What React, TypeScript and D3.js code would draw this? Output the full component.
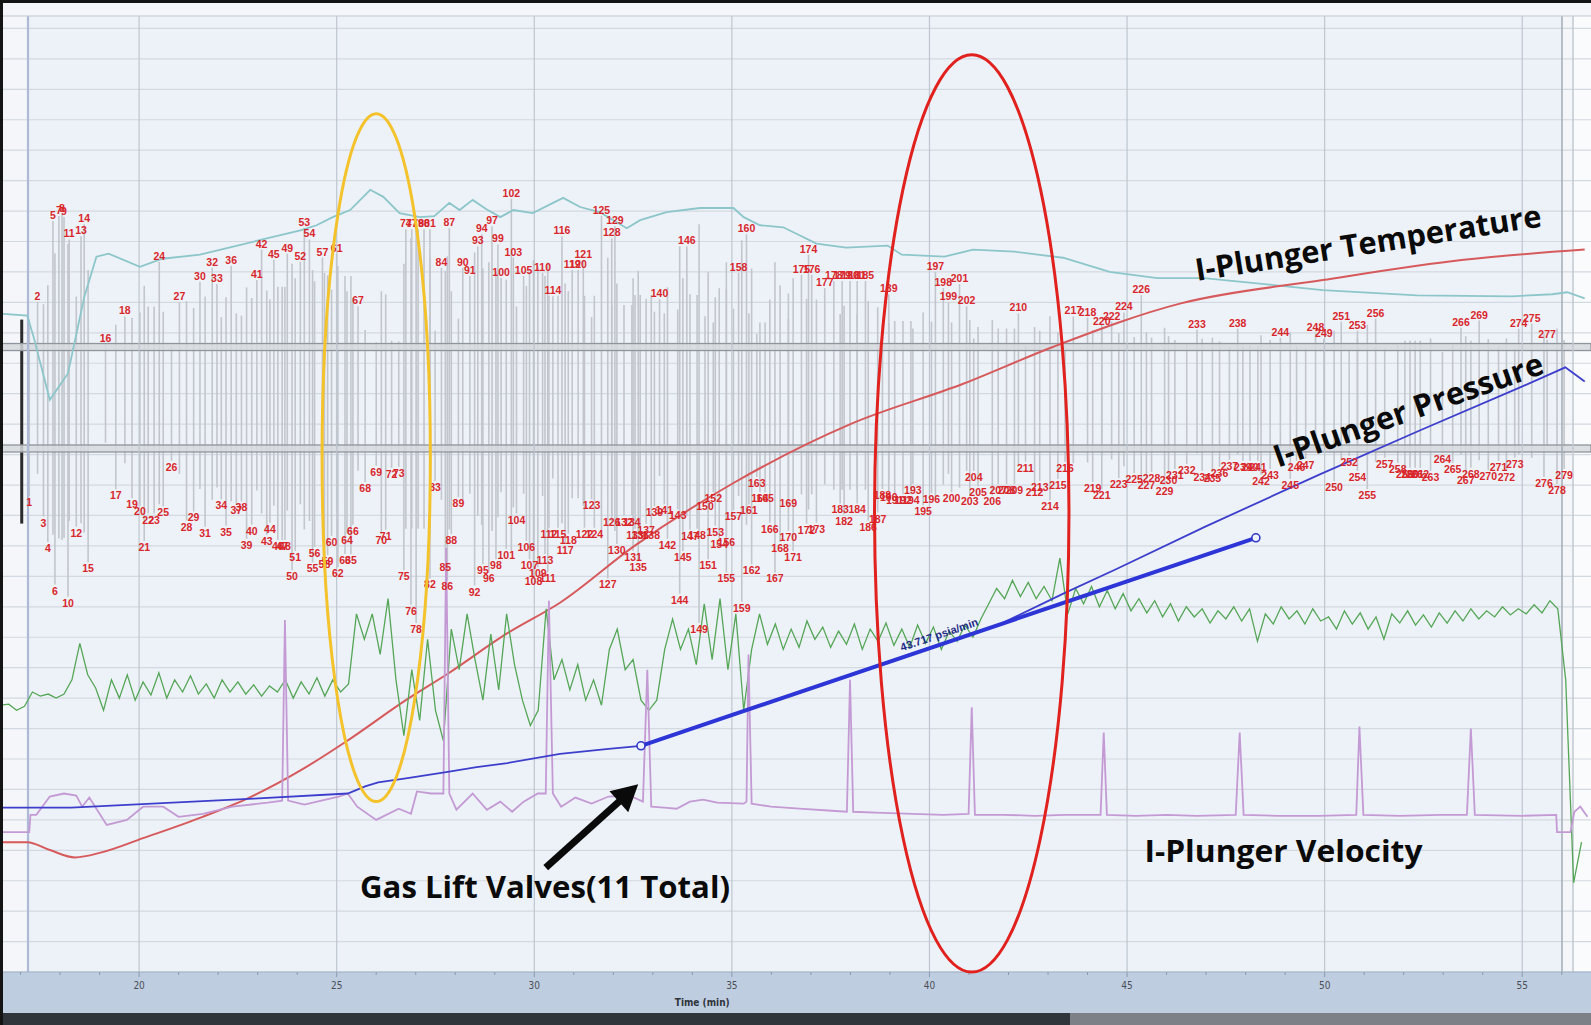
import React from 'react';
import * as d3 from 'd3';

const W = 1591;
const H = 1025;

// time axis, minutes
const xTicks = [20, 25, 30, 35, 40, 45, 50, 55];

// I-Plunger temperature (red)
const tempTime = [16.48, 17.17, 17.76, 18.38, 19.05, 20.10, 21.61, 22.79, 24.18, 25.23, 26.75, 27.77, 29.32, 30.65, 32.50, 35.04, 38.00, 40.87, 43.12, 46.36, 49.95, 53.52, 56.58];
const tempValue = [170, 170, 162, 155, 160, 174, 195, 214, 243, 269, 310, 335, 376, 406, 461, 524, 582, 622, 658, 701, 724, 744, 754];

// cyan trace
const cyanTime = [16.48, 17.17, 17.33, 17.74, 18.20, 18.61, 18.92, 19.23, 20.02, 20.59, 21.54, 22.38, 23.23, 24.08, 24.49, 24.90, 25.34, 25.85, 26.18, 26.59, 27.11, 27.47, 27.85, 28.11, 28.44, 28.78, 29.14, 29.47, 29.96, 30.73, 31.16, 31.65, 32.34, 32.68, 33.35, 34.19, 35.04, 35.30, 35.71, 36.30, 37.14, 37.89, 38.94, 39.30, 40.38, 41.10, 42.15, 43.38, 44.56, 45.77, 46.95, 48.72, 49.95, 52.34, 54.73, 55.76, 56.14, 56.58];
const cyanValue = [691, 689, 668, 606, 632, 707, 747, 750, 737, 745, 749, 757, 765, 773, 778, 786, 793, 813, 806, 790, 786, 787, 800, 793, 803, 794, 786, 793, 790, 805, 796, 791, 775, 783, 791, 795, 795, 786, 778, 776, 760, 756, 758, 749, 747, 754, 752, 746, 732, 726, 726, 719, 714, 709, 708, 710, 712, 706];

// green trace, sampled every 0.2 min from 16.5
const greenStart = 16.5;
const greenStep = 0.2;
const greenValue = [
  305, 306, 300, 304, 318, 314, 316, 312, 316, 330,
  366, 335, 322, 300, 330, 312, 335, 310, 328, 315,
  337, 312, 330, 318, 334, 316, 326, 312, 330, 318,
  328, 316, 325, 314, 324, 318, 330, 312, 328, 316,
  332, 314, 330, 318, 326, 395, 370, 395, 355, 410,
  330, 275, 340, 290, 370, 300, 270, 380, 340, 395,
  350, 310, 375, 320, 395, 345, 310, 285, 300, 400,
  330, 350, 320, 345, 310, 330, 305, 360, 380, 340,
  350, 310, 300, 310, 360, 390, 360, 380, 345, 405,
  350, 410, 340, 395, 300, 360, 395, 365, 385, 360,
  380, 362, 388, 370, 382, 362, 378, 365, 385, 360,
  380, 368, 386, 364, 380, 362, 384, 366, 382, 360,
  378, 368, 384, 372, 390, 405, 420, 410, 428, 412,
  426, 410, 422, 408, 450, 395, 420, 405, 422, 402,
  418, 400, 415, 398, 410, 396, 408, 392, 405, 388,
  402, 392, 400, 386, 398, 390, 402, 388, 400, 368,
  395, 385, 402, 390, 398, 385, 400, 388, 392, 380,
  398, 385, 396, 380, 392, 370, 395, 386, 398, 384,
  394, 382, 396, 386, 398, 388, 400, 390, 398, 392,
  402, 394, 400, 395, 404, 396, 408, 400, 330, 130,
  170,
];

// I-Plunger velocity (purple)
const velTime = [16.48, 17.22, 17.25, 17.40, 17.74, 18.10, 18.41, 18.56, 18.74, 19.18, 19.69, 20.10, 20.61, 21.00, 21.61, 22.36, 23.26, 23.62, 23.69, 23.77, 24.18, 25.05, 25.28, 25.52, 26.00, 26.57, 26.88, 27.03, 27.39, 27.70, 27.77, 27.85, 28.03, 28.44, 28.80, 29.14, 29.44, 29.73, 30.09, 30.29, 30.37, 30.47, 30.68, 31.04, 31.45, 31.88, 32.40, 32.75, 32.86, 32.96, 33.29, 33.60, 33.94, 34.27, 34.63, 35.30, 35.37, 35.42, 35.50, 35.99, 36.71, 37.53, 37.91, 37.99, 38.07, 38.81, 39.58, 40.35, 40.99, 41.07, 41.15, 41.89, 42.66, 43.43, 44.33, 44.41, 44.49, 45.23, 46.00, 46.77, 47.75, 47.85, 47.95, 48.82, 49.85, 50.80, 50.88, 50.98, 51.90, 52.93, 53.60, 53.70, 53.80, 54.99, 55.86, 55.88, 56.22, 56.32, 56.47, 56.65];
const velValue = [180, 180, 197, 197, 215, 218, 216, 205, 214, 187, 192, 205, 205, 195, 198, 205, 209, 211, 389, 211, 207, 215, 218, 205, 192, 203, 198, 220, 218, 218, 460, 218, 202, 218, 202, 210, 200, 210, 218, 218, 408, 218, 205, 214, 208, 215, 216, 210, 340, 205, 204, 203, 210, 212, 209, 208, 210, 355, 208, 205, 203, 201, 200, 330, 200, 199, 198, 197, 198, 303, 197, 197, 196, 197, 197, 278, 197, 196, 197, 196, 197, 278, 197, 196, 196, 197, 284, 197, 196, 197, 197, 282, 197, 196, 197, 180, 180, 200, 205, 195];

// I-Plunger pressure (blue)
const presTime = [16.48, 18.28, 20.33, 22.90, 25.28, 25.72, 26.05, 26.75, 27.77, 28.54, 29.32, 30.65, 31.88, 32.70, 34.45, 37.02, 39.58, 41.79, 43.44, 44.72, 46.98, 49.85, 52.42, 54.99, 56.09, 56.58];
const presValue = [204, 204, 208, 213, 218, 225, 229, 233, 239, 244, 248, 257, 262, 265, 288, 322, 356, 385, 416, 439, 481, 532, 576, 619, 638, 624];

// pressure slope fit
const fitTime = [32.70, 48.26];
const fitValue = [265, 470];
const fitLabel = '43.717 psia/min';

// numbered events (label n = index + 1)
const eventTime = [
  17.22, 17.43, 17.58, 17.69, 17.82, 17.87, 17.97, 18.05, 18.10, 18.20,
  18.23, 18.41, 18.53, 18.61, 18.71, 19.15, 19.41, 19.64, 19.82, 20.02,
  20.13, 20.23, 20.38, 20.51, 20.61, 20.82, 21.02, 21.20, 21.38, 21.54,
  21.67, 21.85, 21.97, 22.08, 22.20, 22.33, 22.46, 22.59, 22.72, 22.85,
  22.98, 23.10, 23.23, 23.31, 23.41, 23.51, 23.62, 23.69, 23.75, 23.87,
  23.95, 24.08, 24.18, 24.31, 24.39, 24.44, 24.64, 24.69, 24.77, 24.87,
  25.00, 25.03, 25.21, 25.26, 25.36, 25.41, 25.54, 25.72, 26.00, 26.13,
  26.24, 26.39, 26.57, 26.75, 26.70, 26.88, 26.90, 27.01, 27.06, 27.21,
  27.36, 27.36, 27.49, 27.65, 27.75, 27.80, 27.85, 27.90, 28.08, 28.19,
  28.37, 28.49, 28.57, 28.67, 28.70, 28.85, 28.93, 29.03, 29.08, 29.16,
  29.29, 29.42, 29.47, 29.55, 29.73, 29.80, 29.88, 29.98, 30.09, 30.21,
  30.34, 30.37, 30.27, 30.47, 30.60, 30.70, 30.78, 30.86, 30.96, 31.11,
  31.24, 31.27, 31.45, 31.52, 31.70, 31.96, 31.86, 31.96, 32.04, 32.09,
  32.50, 32.27, 32.55, 32.47, 32.63, 32.68, 32.83, 32.96, 33.04, 33.17,
  33.29, 33.37, 33.63, 33.68, 33.76, 33.86, 33.94, 34.12, 34.17, 34.32,
  34.40, 34.53, 34.58, 34.68, 34.86, 34.86, 35.04, 35.17, 35.25, 35.37,
  35.43, 35.50, 35.63, 35.71, 35.84, 35.96, 36.09, 36.22, 36.43, 36.43,
  36.55, 36.89, 37.14, 36.94, 36.76, 37.02, 37.35, 37.58, 37.79, 37.99,
  38.17, 37.84, 37.74, 38.17, 38.38, 38.45, 38.69, 38.81, 38.97, 38.97,
  39.12, 39.33, 39.58, 39.53, 39.84, 40.05, 40.15, 40.35, 40.48, 40.56,
  40.76, 40.94, 41.02, 41.12, 41.23, 41.59, 41.74, 41.95, 42.15, 42.25,
  42.43, 42.66, 42.79, 43.05, 43.25, 43.43, 43.64, 44.00, 44.13, 44.36,
  44.36, 44.61, 44.79, 44.92, 45.18, 45.36, 45.49, 45.62, 45.95, 46.05,
  46.21, 46.51, 46.77, 46.90, 47.16, 47.34, 47.59, 47.80, 47.93, 48.11,
  48.31, 48.39, 48.62, 48.88, 49.13, 49.29, 49.52, 49.77, 49.98, 50.24,
  50.42, 50.62, 50.83, 50.83, 51.08, 51.29, 51.52, 51.85, 52.03, 52.16,
  52.29, 52.42, 52.68, 52.98, 53.24, 53.45, 53.57, 53.70, 53.91, 54.14,
  54.40, 54.60, 54.81, 54.91, 55.24, 55.55, 55.63, 55.88, 56.06,
];
const eventLevel = [
  505, 708, 485, 460, 788, 418, 793, 795, 792, 406,
  770, 475, 773, 785, 440, 667, 512, 694, 503, 496,
  461, 488, 488, 748, 495, 540, 708, 481, 490, 728,
  475, 742, 726, 502, 476, 744, 497, 500, 463, 477,
  730, 760, 467, 479, 750, 462, 462, 462, 756, 432,
  451, 748, 781, 770, 440, 455, 752, 444, 447, 466,
  756, 435, 448, 468, 448, 477, 704, 519, 535, 468,
  472, 533, 534, 780, 432, 398, 780, 380, 780, 780,
  780, 424, 520, 742, 441, 422, 781, 468, 504, 742,
  734, 417, 763, 775, 438, 430, 783, 443, 765, 732,
  453, 810, 752, 488, 734, 461, 443, 427, 435, 737,
  430, 474, 448, 714, 474, 773, 458, 468, 740, 740,
  750, 474, 502, 474, 793, 486, 424, 771, 783, 458,
  451, 486, 473, 486, 441, 473, 478, 473, 495, 711,
  497, 463, 492, 409, 451, 763, 472, 473, 380, 501,
  443, 509, 476, 464, 430, 466, 491, 737, 401, 775,
  497, 438, 524, 509, 509, 479, 430, 460, 504, 471,
  451, 478, 479, 755, 735, 735, 722, 729, 729, 729,
  729, 487, 498, 498, 729, 481, 489, 512, 716, 510,
  507, 507, 517, 507, 496, 508, 738, 722, 708, 509,
  726, 704, 506, 530, 515, 506, 517, 517, 517, 697,
  539, 515, 520, 501, 522, 539, 694, 693, 519, 684,
  512, 689, 523, 698, 528, 715, 522, 529, 516, 527,
  532, 537, 681, 530, 529, 534, 541, 682, 540, 540,
  540, 526, 532, 673, 522, 540, 542, 678, 672, 520,
  689, 545, 680, 530, 512, 692, 543, 538, 533, 533,
  533, 533, 530, 548, 538, 683, 527, 533, 690, 531,
  540, 530, 543, 682, 687, 524, 671, 517, 532,
];

// two reference bands of the event trace
const bandLevels = [658, 558];

// annotations (time, value)
const ellipses = [
  { t: 26.0, v: 549, rt: 1.37, rv: 339, color: '#f4c22b' },
  { t: 41.07, v: 494, rt: 2.46, rv: 452, color: '#e0211d' },
];
const notes = [
  { text: 'I-Plunger Temperature', t: 46.77, v: 723, angle: -9, len: 350 },
  { text: 'I-Plunger Pressure', t: 48.82, v: 539, angle: -19.5, len: 284 },
  { text: 'I-Plunger Velocity', t: 45.44, v: 150, angle: 0, len: 278 },
  { text: 'Gas Lift Valves(11 Total)', t: 25.59, v: 115, angle: 0, len: 370 },
];
const arrowFrom = [30.29, 145];
const arrowTo = [32.63, 227];

export default function App() {
  const x = d3.scaleLinear().domain([16.48, 56.74]).range([0, W]);
  const y = d3.scaleLinear().domain([0, 1000]).range([1014.7, 0]);

  const plotTop = 16;
  const plotBottom = 972;
  const plotLeft = 28;
  const plotRight = 1562;

  const path = (ts: number[], vs: number[], curve: d3.CurveFactory = d3.curveLinear) =>
    d3.line<number>().x((_, i) => x(ts[i])).y((d) => y(d)).curve(curve)(vs) || '';

  const greenTime = greenValue.map((_, i) => greenStart + i * greenStep);
  const gridValues = d3.range(0, 32).map((k) => 972 - 30 * k);
  const minorTicks = d3.range(17, 57);

  const bandMid = (bandLevels[0] + bandLevels[1]) / 2;

  // fit line geometry
  const fx1 = x(fitTime[0]), fy1 = y(fitValue[0]);
  const fx2 = x(fitTime[1]), fy2 = y(fitValue[1]);
  const fdx = fx2 - fx1, fdy = fy2 - fy1;
  const flen = Math.hypot(fdx, fdy);
  const fang = (Math.atan2(fdy, fdx) * 180) / Math.PI;
  const fmx = fx1 + fdx * 0.49 + (fdy / flen) * 6;
  const fmy = fy1 + fdy * 0.49 - (fdx / flen) * 6;

  // arrow geometry
  const ax1 = x(arrowFrom[0]), ay1 = y(arrowFrom[1]);
  const ax2 = x(arrowTo[0]), ay2 = y(arrowTo[1]);
  const alen = Math.hypot(ax2 - ax1, ay2 - ay1);
  const ux = (ax2 - ax1) / alen, uy = (ay2 - ay1) / alen;
  const hl = 26, hw = 14;
  const head = [
    [ax2, ay2],
    [ax2 - ux * hl - uy * hw, ay2 - uy * hl + ux * hw],
    [ax2 - ux * hl + uy * hw, ay2 - uy * hl - ux * hw],
  ];

  return (
    <div style={{ position: 'fixed', left: 0, top: 0, width: W, height: H, background: '#fff' }}>
      <svg width={W} height={H} style={{ display: 'block' }}>
        {/* frame */}
        <rect x={0} y={0} width={W} height={H} fill="#f4f6f9" />
        <rect x={plotLeft} y={plotTop} width={plotRight - plotLeft} height={plotBottom - plotTop} fill="#edf2f8" />
        <rect x={plotRight + 11} y={plotTop} width={W - plotRight - 11} height={plotBottom - plotTop} fill="#fafbfc" />

        {/* horizontal grid */}
        {gridValues.map((g) => (
          <line key={'g' + g} x1={0} x2={W} y1={y(g)} y2={y(g)} stroke="#d3d9e0" strokeWidth={1.2} />
        ))}

        {/* event spikes: each runs from its peak through the bands to the mirrored side */}
        {eventTime.map((t, i) => {
          const v = eventLevel[i];
          const up = v > bandMid;
          const px = x(t);
          const far = bandMid - (v - bandMid) * 0.75;
          const y1 = up ? y(v) + 6 : y(far);
          const y2 = up ? y(far) : y(v) - 6;
          return <line key={'s' + i} x1={px} x2={px} y1={y1} y2={y2} stroke="#c2c6cc" strokeWidth={1.6} />;
        })}
        <line x1={x(17.03)} x2={x(17.03)} y1={y(685)} y2={y(484)} stroke="#2b2b2b" strokeWidth={3} />

        {/* bands */}
        {bandLevels.map((b) => (
          <rect key={'b' + b} x={0} y={y(b) - 3.5} width={W} height={7} fill="#d6d9dd" fillOpacity={0.85} stroke="#8f959c" strokeWidth={1.3} />
        ))}

        {/* vertical grid */}
        {xTicks.map((t) => (
          <line key={'v' + t} x1={x(t)} x2={x(t)} y1={plotTop} y2={plotBottom} stroke="#bfc6cf" strokeWidth={1.2} />
        ))}
        <line x1={plotLeft} x2={plotLeft} y1={plotTop} y2={plotBottom} stroke="#aeb9d6" strokeWidth={2.2} />
        <line x1={plotRight} x2={plotRight} y1={plotTop} y2={plotBottom} stroke="#a3abb5" strokeWidth={1.5} />
        <line x1={plotRight + 11} x2={plotRight + 11} y1={plotTop} y2={plotBottom} stroke="#c2c9d1" strokeWidth={1.5} />
        <line x1={0} x2={W} y1={plotTop} y2={plotTop} stroke="#c3cad3" strokeWidth={1} />

        {/* traces */}
        <path d={path(cyanTime, cyanValue)} fill="none" stroke="#8cc6ca" strokeWidth={1.8} />
        <path d={path(tempTime, tempValue, d3.curveMonotoneX)} fill="none" stroke="#d65a5c" strokeWidth={2} />
        <path d={path(greenTime, greenValue)} fill="none" stroke="#55a657" strokeWidth={1.3} />
        <path d={path(velTime, velValue)} fill="none" stroke="#c49ad4" strokeWidth={1.8} />
        <path d={path(presTime, presValue)} fill="none" stroke="#3d3fcc" strokeWidth={1.8} />

        {/* slope fit */}
        <line x1={fx1} y1={fy1} x2={fx2} y2={fy2} stroke="#2d35d6" strokeWidth={4} />
        <circle cx={fx1} cy={fy1} r={4} fill="#eef2fb" stroke="#3138c8" strokeWidth={1.6} />
        <circle cx={fx2} cy={fy2} r={4} fill="#eef2fb" stroke="#3138c8" strokeWidth={1.6} />
        <text
          transform={`translate(${fmx},${fmy}) rotate(${fang})`}
          textAnchor="middle"
          fontFamily="Liberation Sans, Arial, sans-serif"
          fontSize={11}
          fontWeight={700}
          fill="#1f2a86"
        >
          {fitLabel}
        </text>

        {/* event numbers */}
        {eventTime.map((t, i) => (
          <text
            key={'n' + i}
            x={x(t)}
            y={y(eventLevel[i]) + 4}
            textAnchor="middle"
            fontFamily="Liberation Sans, Arial, sans-serif"
            fontSize={10.5}
            fontWeight={700}
            fill="#d9262b"
          >
            {i + 1}
          </text>
        ))}

        {/* bottom axis */}
        <rect x={0} y={plotBottom} width={W} height={1013 - plotBottom} fill="#bfcde0" />
        <line x1={0} x2={W} y1={plotBottom} y2={plotBottom} stroke="#9fb0c6" strokeWidth={1.2} />
        {minorTicks.map((t) => (
          <line key={'m' + t} x1={x(t)} x2={x(t)} y1={plotBottom} y2={plotBottom + (t % 5 === 0 ? 5 : 3)} stroke="#8a9ab0" strokeWidth={1} />
        ))}
        {xTicks.map((t) => (
          <text
            key={'l' + t}
            x={x(t)}
            y={plotBottom + 17}
            textAnchor="middle"
            fontFamily="DejaVu Sans Condensed, DejaVu Sans, sans-serif"
            fontSize={10}
            fill="#4a4f57"
          >
            {t}
          </text>
        ))}
        <text x={x(34.25)} y={1006} textAnchor="middle" fontFamily="DejaVu Sans Condensed, DejaVu Sans, sans-serif" fontSize={10} fontWeight={700} fill="#2f343b">
          Time (min)
        </text>
        <rect x={0} y={1013} width={1070} height={12} fill="#30353b" />
        <rect x={1070} y={1013} width={W - 1070} height={12} fill="#7d8187" />

        {/* outer dark edges */}
        <rect x={0} y={0} width={W} height={3} fill="#141414" />
        <rect x={0} y={0} width={3} height={H} fill="#141414" />

        {/* annotations */}
        {ellipses.map((e, i) => (
          <ellipse
            key={'e' + i}
            cx={x(e.t)}
            cy={y(e.v)}
            rx={x(e.t + e.rt) - x(e.t)}
            ry={y(e.v - e.rv) - y(e.v)}
            fill="none"
            stroke={e.color}
            strokeWidth={3}
          />
        ))}
        {notes.map((n, i) => (
          <text
            key={'a' + i}
            transform={`translate(${x(n.t)},${y(n.v)}) rotate(${n.angle})`}
            fontFamily="Open Sans, Noto Sans, sans-serif"
            fontWeight={700}
            fontSize={31}
            fill="#0a0a0a"
            textLength={n.len}
            lengthAdjust="spacingAndGlyphs"
          >
            {n.text}
          </text>
        ))}
        <line x1={ax1} y1={ay1} x2={ax2 - ux * 18} y2={ay2 - uy * 18} stroke="#0a0a0a" strokeWidth={7} />
        <polygon points={head.map((p) => p.join(',')).join(' ')} fill="#0a0a0a" />
      </svg>
    </div>
  );
}
